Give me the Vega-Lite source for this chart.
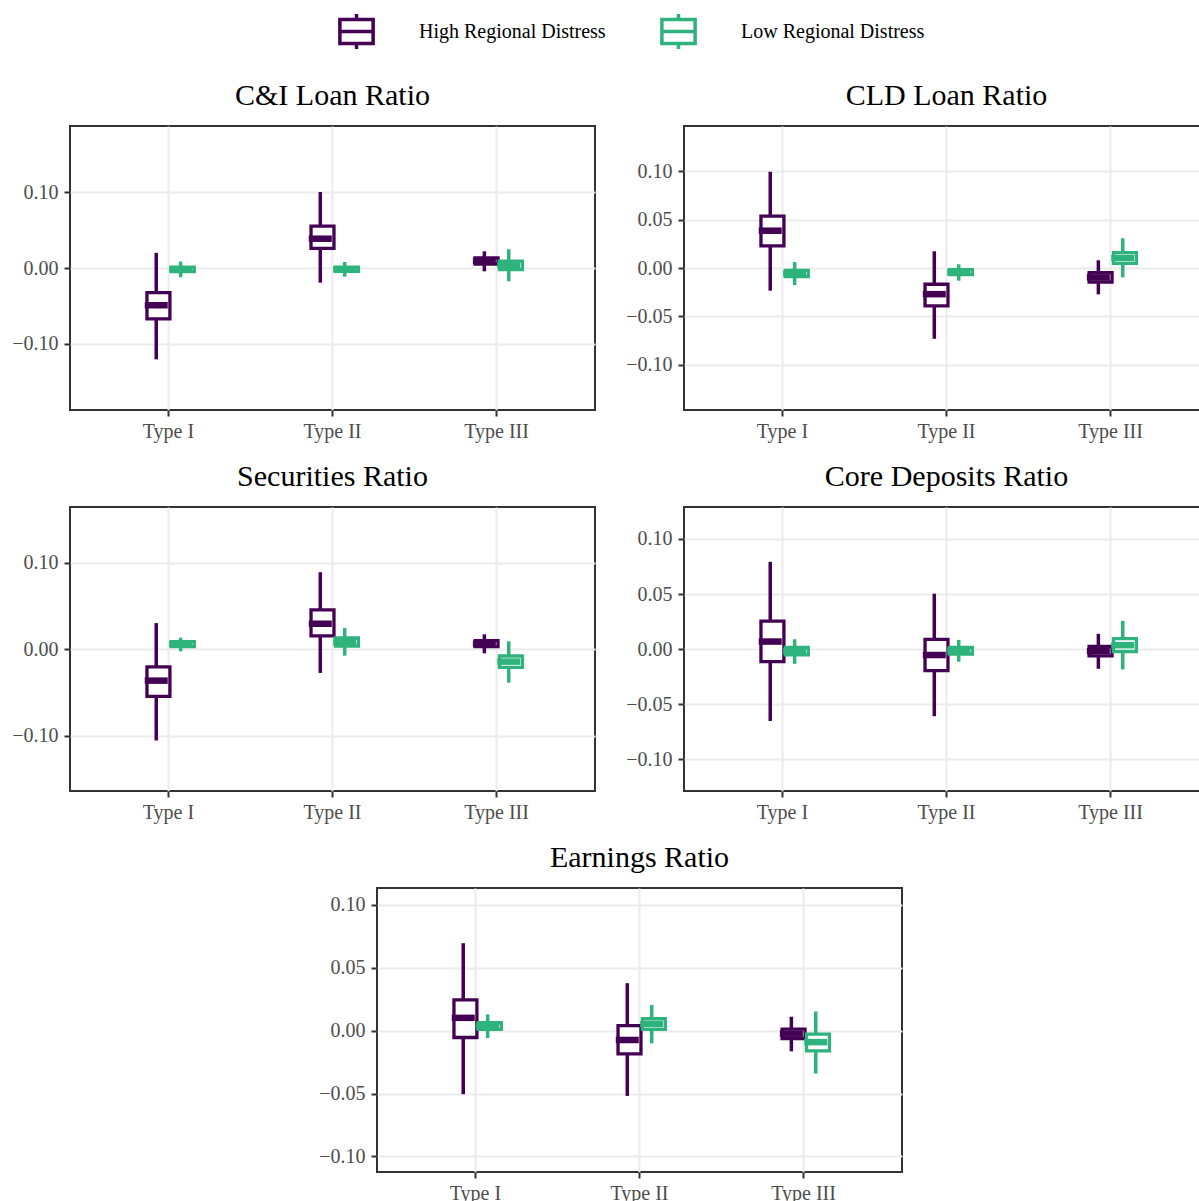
{
  "$schema": "https://vega.github.io/schema/vega-lite/v6.json",
  "padding": {"left": 10, "top": 12, "right": 0, "bottom": 0},
  "background": "white",
  "data": {"values": [
    {"panel": "C&I Loan Ratio", "type": "Type I", "group": "High Regional Distress", "min": -0.1207, "q1": -0.0672, "median": -0.0492, "q3": -0.0325, "max": 0.0200},
    {"panel": "C&I Loan Ratio", "type": "Type I", "group": "Low Regional Distress", "min": -0.0122, "q1": -0.0047, "median": -0.0018, "q3": 0.0010, "max": 0.0085},
    {"panel": "C&I Loan Ratio", "type": "Type II", "group": "High Regional Distress", "min": -0.0194, "q1": 0.0260, "median": 0.0387, "q3": 0.0553, "max": 0.1004},
    {"panel": "C&I Loan Ratio", "type": "Type II", "group": "Low Regional Distress", "min": -0.0114, "q1": -0.0044, "median": -0.0017, "q3": 0.0010, "max": 0.0079},
    {"panel": "C&I Loan Ratio", "type": "Type III", "group": "High Regional Distress", "min": -0.0044, "q1": 0.0053, "median": 0.0092, "q3": 0.0132, "max": 0.0220},
    {"panel": "C&I Loan Ratio", "type": "Type III", "group": "Low Regional Distress", "min": -0.0176, "q1": -0.0022, "median": 0.0035, "q3": 0.0092, "max": 0.0247},
    {"panel": "CLD Loan Ratio", "type": "Type I", "group": "High Regional Distress", "min": -0.0235, "q1": 0.0230, "median": 0.0386, "q3": 0.0538, "max": 0.0996},
    {"panel": "CLD Loan Ratio", "type": "Type I", "group": "Low Regional Distress", "min": -0.0176, "q1": -0.0090, "median": -0.0057, "q3": -0.0024, "max": 0.0062},
    {"panel": "CLD Loan Ratio", "type": "Type II", "group": "High Regional Distress", "min": -0.0733, "q1": -0.0392, "median": -0.0271, "q3": -0.0168, "max": 0.0173},
    {"panel": "CLD Loan Ratio", "type": "Type II", "group": "Low Regional Distress", "min": -0.0131, "q1": -0.0069, "median": -0.0043, "q3": -0.0017, "max": 0.0038},
    {"panel": "CLD Loan Ratio", "type": "Type III", "group": "High Regional Distress", "min": -0.0273, "q1": -0.0145, "median": -0.0097, "q3": -0.0048, "max": 0.0080},
    {"panel": "CLD Loan Ratio", "type": "Type III", "group": "Low Regional Distress", "min": -0.0097, "q1": 0.0048, "median": 0.0104, "q3": 0.0159, "max": 0.0308},
    {"panel": "Securities Ratio", "type": "Type I", "group": "High Regional Distress", "min": -0.1054, "q1": -0.0544, "median": -0.0362, "q3": -0.0202, "max": 0.0304},
    {"panel": "Securities Ratio", "type": "Type I", "group": "Low Regional Distress", "min": -0.0023, "q1": 0.0031, "median": 0.0060, "q3": 0.0088, "max": 0.0135},
    {"panel": "Securities Ratio", "type": "Type II", "group": "High Regional Distress", "min": -0.0273, "q1": 0.0156, "median": 0.0296, "q3": 0.0456, "max": 0.0892},
    {"panel": "Securities Ratio", "type": "Type II", "group": "Low Regional Distress", "min": -0.0073, "q1": 0.0038, "median": 0.0085, "q3": 0.0131, "max": 0.0246},
    {"panel": "Securities Ratio", "type": "Type III", "group": "High Regional Distress", "min": -0.0046, "q1": 0.0031, "median": 0.0065, "q3": 0.0100, "max": 0.0173},
    {"panel": "Securities Ratio", "type": "Type III", "group": "Low Regional Distress", "min": -0.0385, "q1": -0.0208, "median": -0.0142, "q3": -0.0077, "max": 0.0092},
    {"panel": "Core Deposits Ratio", "type": "Type I", "group": "High Regional Distress", "min": -0.0651, "q1": -0.0113, "median": 0.0069, "q3": 0.0255, "max": 0.0792},
    {"panel": "Core Deposits Ratio", "type": "Type I", "group": "Low Regional Distress", "min": -0.0133, "q1": -0.0051, "median": -0.0018, "q3": 0.0015, "max": 0.0090},
    {"panel": "Core Deposits Ratio", "type": "Type II", "group": "High Regional Distress", "min": -0.0608, "q1": -0.0194, "median": -0.0053, "q3": 0.0089, "max": 0.0503},
    {"panel": "Core Deposits Ratio", "type": "Type II", "group": "Low Regional Distress", "min": -0.0114, "q1": -0.0045, "median": -0.0015, "q3": 0.0015, "max": 0.0084},
    {"panel": "Core Deposits Ratio", "type": "Type III", "group": "High Regional Distress", "min": -0.0178, "q1": -0.0060, "median": -0.0018, "q3": 0.0024, "max": 0.0139},
    {"panel": "Core Deposits Ratio", "type": "Type III", "group": "Low Regional Distress", "min": -0.0184, "q1": -0.0021, "median": 0.0036, "q3": 0.0096, "max": 0.0256},
    {"panel": "Earnings Ratio", "type": "Type I", "group": "High Regional Distress", "min": -0.0505, "q1": -0.0054, "median": 0.0102, "q3": 0.0245, "max": 0.0696},
    {"panel": "Earnings Ratio", "type": "Type I", "group": "Low Regional Distress", "min": -0.0058, "q1": 0.0011, "median": 0.0037, "q3": 0.0063, "max": 0.0130},
    {"panel": "Earnings Ratio", "type": "Type II", "group": "High Regional Distress", "min": -0.0519, "q1": -0.0184, "median": -0.0074, "q3": 0.0041, "max": 0.0378},
    {"panel": "Earnings Ratio", "type": "Type II", "group": "Low Regional Distress", "min": -0.0101, "q1": 0.0011, "median": 0.0053, "q3": 0.0095, "max": 0.0204},
    {"panel": "Earnings Ratio", "type": "Type III", "group": "High Regional Distress", "min": -0.0164, "q1": -0.0063, "median": -0.0024, "q3": 0.0013, "max": 0.0111},
    {"panel": "Earnings Ratio", "type": "Type III", "group": "Low Regional Distress", "min": -0.0341, "q1": -0.0160, "median": -0.0091, "q3": -0.0028, "max": 0.0153}
  ]},
  "spacing": 19,
  "center": true,
  "vconcat": [
    {
      "spacing": 28,
      "hconcat": [
        {
          "width": 525, "height": 284, "title": "C&I Loan Ratio",
          "transform": [{"filter": "datum.panel === 'C&I Loan Ratio'"}],
          "encoding": {
            "x": {"field": "type", "type": "nominal", "title": null, "sort": ["Type I", "Type II", "Type III"], "scale": {"paddingInner": 0.405, "paddingOuter": 0.3025}, "axis": {"labelAngle": 0, "bandPosition": 0.5}},
            "xOffset": {"field": "group", "type": "nominal", "sort": ["High Regional Distress", "Low Regional Distress"], "scale": {"paddingInner": 0, "paddingOuter": 1}},
            "color": {"field": "group", "type": "nominal", "scale": {"domain": ["High Regional Distress", "Low Regional Distress"], "range": ["#440154", "#2EB37C"]}, "legend": {"orient": "none", "legendX": 267, "legendY": -114, "direction": "horizontal", "title": null}}
          },
          "layer": [
            {"mark": {"type": "rule", "strokeWidth": 3.5},
             "encoding": {
               "y": {"field": "min", "type": "quantitative", "title": null, "scale": {"domain": [-0.1876, 0.1876], "nice": false, "zero": false}, "axis": {"values": [-0.1, 0, 0.1], "format": ".2f"}},
               "y2": {"field": "max"}
             }},
            {"mark": {"type": "bar", "filled": false, "fill": "white", "strokeWidth": 3.3, "width": {"band": 0.94}},
             "encoding": {"y": {"field": "q1", "type": "quantitative"}, "y2": {"field": "q3"}}},
            {"mark": {"type": "tick", "filled": false, "thickness": 0.01, "strokeWidth": 6.5, "size": 16.5, "opacity": 1},
             "encoding": {"y": {"field": "median", "type": "quantitative"}}}
          ]
        },
        {
          "width": 525, "height": 284, "title": "CLD Loan Ratio",
          "transform": [{"filter": "datum.panel === 'CLD Loan Ratio'"}],
          "encoding": {
            "x": {"field": "type", "type": "nominal", "title": null, "sort": ["Type I", "Type II", "Type III"], "scale": {"paddingInner": 0.405, "paddingOuter": 0.3025}, "axis": {"labelAngle": 0, "bandPosition": 0.5}},
            "xOffset": {"field": "group", "type": "nominal", "sort": ["High Regional Distress", "Low Regional Distress"], "scale": {"paddingInner": 0, "paddingOuter": 1}},
            "color": {"field": "group", "type": "nominal", "scale": {"domain": ["High Regional Distress", "Low Regional Distress"], "range": ["#440154", "#2EB37C"]}, "legend": {"orient": "none", "legendX": 267, "legendY": -114, "direction": "horizontal", "title": null}}
          },
          "layer": [
            {"mark": {"type": "rule", "strokeWidth": 3.5},
             "encoding": {
               "y": {"field": "min", "type": "quantitative", "title": null, "scale": {"domain": [-0.147, 0.147], "nice": false, "zero": false}, "axis": {"values": [-0.1, -0.05, 0, 0.05, 0.1], "format": ".2f"}},
               "y2": {"field": "max"}
             }},
            {"mark": {"type": "bar", "filled": false, "fill": "white", "strokeWidth": 3.3, "width": {"band": 0.94}},
             "encoding": {"y": {"field": "q1", "type": "quantitative"}, "y2": {"field": "q3"}}},
            {"mark": {"type": "tick", "filled": false, "thickness": 0.01, "strokeWidth": 6.5, "size": 16.5, "opacity": 1},
             "encoding": {"y": {"field": "median", "type": "quantitative"}}}
          ]
        }
      ]
    },
    {
      "spacing": 28,
      "hconcat": [
        {
          "width": 525, "height": 284, "title": "Securities Ratio",
          "transform": [{"filter": "datum.panel === 'Securities Ratio'"}],
          "encoding": {
            "x": {"field": "type", "type": "nominal", "title": null, "sort": ["Type I", "Type II", "Type III"], "scale": {"paddingInner": 0.405, "paddingOuter": 0.3025}, "axis": {"labelAngle": 0, "bandPosition": 0.5}},
            "xOffset": {"field": "group", "type": "nominal", "sort": ["High Regional Distress", "Low Regional Distress"], "scale": {"paddingInner": 0, "paddingOuter": 1}},
            "color": {"field": "group", "type": "nominal", "scale": {"domain": ["High Regional Distress", "Low Regional Distress"], "range": ["#440154", "#2EB37C"]}, "legend": {"orient": "none", "legendX": 267, "legendY": -114, "direction": "horizontal", "title": null}}
          },
          "layer": [
            {"mark": {"type": "rule", "strokeWidth": 3.5},
             "encoding": {
               "y": {"field": "min", "type": "quantitative", "title": null, "scale": {"domain": [-0.1638, 0.1646], "nice": false, "zero": false}, "axis": {"values": [-0.1, 0, 0.1], "format": ".2f"}},
               "y2": {"field": "max"}
             }},
            {"mark": {"type": "bar", "filled": false, "fill": "white", "strokeWidth": 3.3, "width": {"band": 0.94}},
             "encoding": {"y": {"field": "q1", "type": "quantitative"}, "y2": {"field": "q3"}}},
            {"mark": {"type": "tick", "filled": false, "thickness": 0.01, "strokeWidth": 6.5, "size": 16.5, "opacity": 1},
             "encoding": {"y": {"field": "median", "type": "quantitative"}}}
          ]
        },
        {
          "width": 525, "height": 284, "title": "Core Deposits Ratio",
          "transform": [{"filter": "datum.panel === 'Core Deposits Ratio'"}],
          "encoding": {
            "x": {"field": "type", "type": "nominal", "title": null, "sort": ["Type I", "Type II", "Type III"], "scale": {"paddingInner": 0.405, "paddingOuter": 0.3025}, "axis": {"labelAngle": 0, "bandPosition": 0.5}},
            "xOffset": {"field": "group", "type": "nominal", "sort": ["High Regional Distress", "Low Regional Distress"], "scale": {"paddingInner": 0, "paddingOuter": 1}},
            "color": {"field": "group", "type": "nominal", "scale": {"domain": ["High Regional Distress", "Low Regional Distress"], "range": ["#440154", "#2EB37C"]}, "legend": {"orient": "none", "legendX": 267, "legendY": -114, "direction": "horizontal", "title": null}}
          },
          "layer": [
            {"mark": {"type": "rule", "strokeWidth": 3.5},
             "encoding": {
               "y": {"field": "min", "type": "quantitative", "title": null, "scale": {"domain": [-0.1286, 0.1289], "nice": false, "zero": false}, "axis": {"values": [-0.1, -0.05, 0, 0.05, 0.1], "format": ".2f"}},
               "y2": {"field": "max"}
             }},
            {"mark": {"type": "bar", "filled": false, "fill": "white", "strokeWidth": 3.3, "width": {"band": 0.94}},
             "encoding": {"y": {"field": "q1", "type": "quantitative"}, "y2": {"field": "q3"}}},
            {"mark": {"type": "tick", "filled": false, "thickness": 0.01, "strokeWidth": 6.5, "size": 16.5, "opacity": 1},
             "encoding": {"y": {"field": "median", "type": "quantitative"}}}
          ]
        }
      ]
    },
    {
      "width": 525, "height": 284, "title": "Earnings Ratio",
      "transform": [{"filter": "datum.panel === 'Earnings Ratio'"}],
      "encoding": {
        "x": {"field": "type", "type": "nominal", "title": null, "sort": ["Type I", "Type II", "Type III"], "scale": {"paddingInner": 0.405, "paddingOuter": 0.3025}, "axis": {"labelAngle": 0, "bandPosition": 0.5}},
        "xOffset": {"field": "group", "type": "nominal", "sort": ["High Regional Distress", "Low Regional Distress"], "scale": {"paddingInner": 0, "paddingOuter": 1}},
        "color": {"field": "group", "type": "nominal", "scale": {"domain": ["High Regional Distress", "Low Regional Distress"], "range": ["#440154", "#2EB37C"]}, "legend": {"orient": "none", "legendX": 267, "legendY": -114, "direction": "horizontal", "title": null}}
      },
      "layer": [
        {"mark": {"type": "rule", "strokeWidth": 3.5},
         "encoding": {
           "y": {"field": "min", "type": "quantitative", "title": null, "scale": {"domain": [-0.1124, 0.1135], "nice": false, "zero": false}, "axis": {"values": [-0.1, -0.05, 0, 0.05, 0.1], "format": ".2f"}},
           "y2": {"field": "max"}
         }},
        {"mark": {"type": "bar", "filled": false, "fill": "white", "strokeWidth": 3.3, "width": {"band": 0.94}},
         "encoding": {"y": {"field": "q1", "type": "quantitative"}, "y2": {"field": "q3"}}},
        {"mark": {"type": "tick", "filled": false, "thickness": 0.01, "strokeWidth": 6.5, "size": 16.5, "opacity": 1},
         "encoding": {"y": {"field": "median", "type": "quantitative"}}}
      ]
    }
  ],
  "config": {
    "view": {"stroke": "#333333", "strokeWidth": 2},
    "axis": {"domain": false, "grid": true, "gridColor": "#EBEBEB", "gridWidth": 2, "tickColor": "#333333", "tickWidth": 2, "tickSize": 6, "labelFont": "Liberation Serif", "labelFontSize": 20, "labelColor": "#4D4D4D", "labelPadding": 5},
    "axisY": {"labelPadding": 6},
    "title": {"font": "Liberation Serif", "fontSize": 30, "fontWeight": "normal", "color": "black", "anchor": "middle", "offset": 15},
    "legend": {
      "symbolType": "M-0.95,-0.68H0.95V0.68H-0.95Z M-0.95,0H0.95 M0,-0.68V-1 M0,0.68V1",
      "symbolSize": 1225, "symbolStrokeWidth": 3.5, "symbolFillColor": "transparent",
      "labelFont": "Liberation Serif", "labelFontSize": 20, "labelColor": "black", "labelOffset": 43, "labelLimit": 0, "columnPadding": 48
    }
  }
}
